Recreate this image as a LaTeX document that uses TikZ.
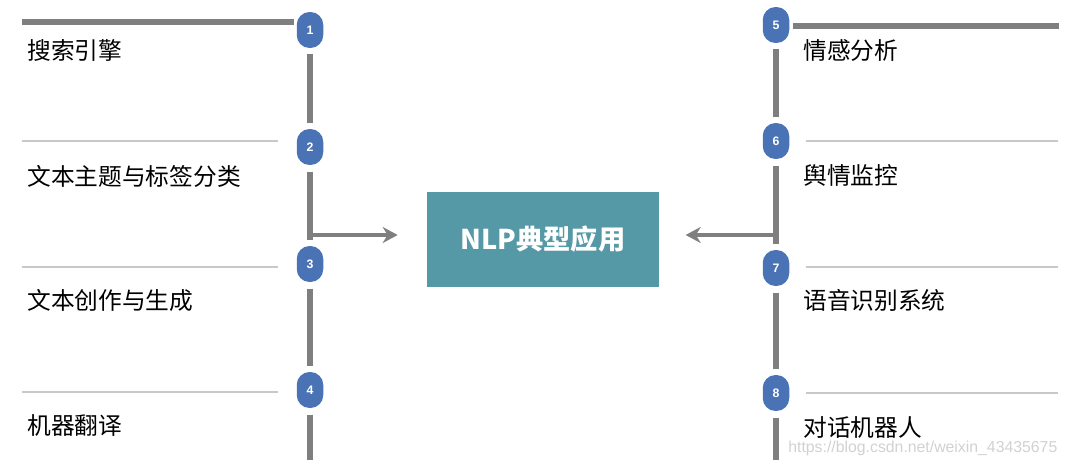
\documentclass[tikz,border=0pt]{standalone}
\usepackage{fontspec}
\usepackage{tikz}
\usetikzlibrary{arrows.meta, positioning, calc}
\newfontfamily\cjk{Noto Sans CJK SC}
\newfontfamily\wmfont{Liberation Sans}
\definecolor{linegray}{HTML}{7F7F7F}
\definecolor{thingray}{HTML}{C8C8C8}
\definecolor{badgeblue}{HTML}{4A73B5}
\definecolor{boxteal}{HTML}{5598A6}

\begin{document}
\begin{tikzpicture}[x=0.02cm, y=-0.02cm, >={Stealth[length=0.3cm, width=0.32cm]}, font=\cjk,
    badge/.style={draw=none, fill=badgeblue, rounded corners=7.3pt, minimum width=0.53cm, minimum height=0.72cm, inner sep=0pt, text=white, font=\wmfont\bfseries\fontsize{7}{8}\selectfont},
    item/.style={anchor=west, inner sep=0pt, font=\cjk\fontsize{13.5}{16}\selectfont},
    spine/.style={draw=linegray, line width=3pt, shorten <=3.5pt, shorten >=3.5pt},
    sep/.style={draw=thingray, line width=0.8pt}]
	\useasboundingbox (0,0) rectangle (1069,460);
	% centre
	\node[fill=boxteal, minimum width=4.64cm, minimum height=1.9cm, text=white, font=\cjk\bfseries\fontsize{15.5}{18}\selectfont] (nlp) at (543, 239.5) {NLP典型应用};
	
	% left column
	\node[badge] (b1) at (310, 30) {1};
	\node[badge] (b2) at (310, 147) {2};
	\node[badge] (b3) at (310, 264) {3};
	\node[badge] (b4) at (310, 390) {4};
	\coordinate (lend) at (310, 460);
	\coordinate (ljoin) at (310, 235);
	
	\node[item] (t1) at (27, 50) {搜索引擎};
	\node[item] (t2) at (27, 176) {文本主题与标签分类};
	\node[item] (t3) at (27, 300) {文本创作与生成};
	\node[item] (t4) at (27, 426) {机器翻译};
	
	\coordinate (ltop) at (22, 22);
	\draw[linegray, line width=3pt] (ltop) -- ($(b1.west |- ltop)+(-2,0)$);
	\draw[sep] (22, 141) -- (278, 141);
	\draw[sep] (22, 267) -- (278, 267);
	\draw[sep] (22, 392) -- (278, 392);
	
	\draw[spine] (b1) -- (b2);
	\draw[spine] (b2) -- (b3);
	\draw[spine] (b3) -- (b4);
	\draw[spine, shorten >=0pt] (b4) -- (lend);
	\draw[->, linegray, line width=2.6pt, shorten >=16.5pt] ($(ljoin)+(-2.5,0)$) -- (nlp.west |- ljoin);
	
	% right column
	\node[badge] (b5) at (776, 25) {5};
	\node[badge] (b6) at (776, 141) {6};
	\node[badge] (b7) at (776, 268) {7};
	\node[badge] (b8) at (776, 393) {8};
	\coordinate (rend) at (776, 460);
	\coordinate (rjoin) at (776, 235);
	
	\node[item] (t5) at (803, 50) {情感分析};
	\node[item] (t6) at (803, 175) {舆情监控};
	\node[item] (t7) at (803, 300) {语音识别系统};
	\node[item] (t8) at (803, 427) {对话机器人};
	
	\coordinate (rtop) at (1059, 26);
	\draw[linegray, line width=3pt] (rtop) -- ($(b5.east |- rtop)+(3,0)$);
	\draw[sep] (806, 141) -- (1058, 141);
	\draw[sep] (806, 267) -- (1058, 267);
	\draw[sep] (806, 393) -- (1058, 393);
	
	\draw[spine] (b5) -- (b6);
	\draw[spine] (b6) -- (b7);
	\draw[spine] (b7) -- (b8);
	\draw[spine, shorten >=0pt] (b8) -- (rend);
	\draw[->, linegray, line width=2.6pt, shorten >=15pt] ($(rjoin)+(2.5,0)$) -- (nlp.east |- rjoin);
	
	\node[anchor=west, inner sep=0pt, text=black!18, font=\wmfont\fontsize{9}{11}\selectfont] (wm) at (788, 448) {https://blog.csdn.net/weixin\_43435675};
\end{tikzpicture}
\end{document}
